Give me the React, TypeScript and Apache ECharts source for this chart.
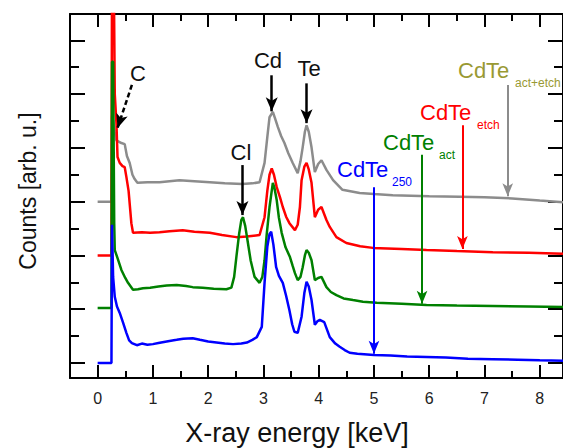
import React, { useEffect, useRef } from 'react';
import * as echarts from 'echarts';

// ---- axis ticks ----
const xTickValues = [0, 1, 2, 3, 4, 5, 6, 7, 8];
const xMinorValues = [0.5, 1.5, 2.5, 3.5, 4.5, 5.5, 6.5, 7.5];
const yTickValues = [0, 1, 2, 3, 4, 5, 6];
const yMinorValues = [0.5, 1.5, 2.5, 3.5, 4.5, 5.5];
const X_MIN = -0.5;
const X_MAX = 8.42;
const Y_MIN = -0.28;
const Y_MAX = 6.49;

// ---- spectra: [energy keV, counts (arb. u., offset)] ----
const cdte250: [number, number][] = [
  [0, 0], [0.25, 0], [0.26, 2.57], [0.28, 1.6], [0.31, 1.23], [0.35, 1.05], [0.4, 0.93], [0.46, 0.75],
  [0.52, 0.56], [0.57, 0.42], [0.62, 0.37], [0.71, 0.33], [0.8, 0.36], [0.9, 0.34], [1.0, 0.35],
  [1.1, 0.37], [1.2, 0.39], [1.3, 0.41], [1.43, 0.43], [1.55, 0.45], [1.72, 0.46], [1.85, 0.43],
  [2.0, 0.4], [2.15, 0.38], [2.3, 0.36], [2.45, 0.35], [2.6, 0.36], [2.7, 0.38], [2.8, 0.43],
  [2.88, 0.48], [2.97, 0.67], [3.02, 1.49], [3.07, 2.16], [3.11, 2.4], [3.14, 2.44], [3.18, 2.2],
  [3.23, 1.78], [3.28, 1.62], [3.35, 1.49], [3.41, 1.25], [3.47, 0.98], [3.52, 0.72], [3.56, 0.58],
  [3.62, 0.56], [3.69, 0.86], [3.74, 1.3], [3.78, 1.51], [3.82, 1.42], [3.87, 1.17], [3.93, 0.71],
  [3.98, 0.78], [4.02, 0.8], [4.1, 0.76], [4.15, 0.62], [4.2, 0.48], [4.3, 0.36], [4.38, 0.3],
  [4.47, 0.24], [4.56, 0.19], [4.7, 0.17], [5.0, 0.15], [5.3, 0.14], [5.6, 0.12], [5.95, 0.11],
  [6.3, 0.1], [6.7, 0.08], [7.15, 0.07], [7.6, 0.06], [8.0, 0.05], [8.42, 0.04],
];

const cdteAct: [number, number][] = [
  [0, 1.02], [0.25, 1.02], [0.26, 5.6], [0.28, 5.6], [0.3, 2.6], [0.31, 2.1], [0.36, 1.95], [0.43, 1.73],
  [0.5, 1.58], [0.55, 1.49], [0.64, 1.36], [0.73, 1.37], [0.82, 1.39], [0.95, 1.4], [1.1, 1.42],
  [1.25, 1.44], [1.43, 1.45], [1.6, 1.43], [1.72, 1.41], [1.9, 1.4], [2.1, 1.38], [2.33, 1.37],
  [2.42, 1.4], [2.47, 1.6], [2.51, 1.97], [2.56, 2.4], [2.6, 2.66], [2.63, 2.71], [2.67, 2.55],
  [2.71, 2.29], [2.77, 1.9], [2.84, 1.6], [2.93, 1.49], [2.98, 1.6], [3.02, 1.91], [3.06, 2.4],
  [3.11, 2.9], [3.17, 3.35], [3.2, 3.25], [3.24, 3.03], [3.28, 2.7], [3.33, 2.42], [3.4, 2.15],
  [3.48, 1.97], [3.53, 1.8], [3.57, 1.67], [3.62, 1.54], [3.67, 1.6], [3.71, 1.78], [3.75, 2.0],
  [3.78, 2.1], [3.82, 2.05], [3.87, 1.91], [3.93, 1.54], [3.99, 1.58], [4.05, 1.6], [4.14, 1.41],
  [4.22, 1.32], [4.32, 1.26], [4.45, 1.2], [4.62, 1.17], [4.8, 1.14], [5.05, 1.12], [5.5, 1.1],
  [5.95, 1.08], [6.5, 1.07], [7.15, 1.06], [7.8, 1.05], [8.42, 1.04],
];

const cdteEtch: [number, number][] = [
  [0, 2.0], [0.25, 2.0], [0.26, 7.5], [0.29, 7.5], [0.31, 5.0], [0.34, 4.46], [0.36, 3.83], [0.4, 3.72],
  [0.45, 3.66], [0.49, 3.64], [0.52, 3.46], [0.56, 3.2], [0.61, 2.6], [0.64, 2.42], [0.8, 2.43],
  [0.95, 2.42], [1.12, 2.43], [1.3, 2.45], [1.54, 2.47], [1.75, 2.44], [2.03, 2.42], [2.25, 2.38],
  [2.51, 2.34], [2.7, 2.35], [2.93, 2.38], [3.02, 2.71], [3.07, 3.2], [3.11, 3.5], [3.15, 3.62],
  [3.19, 3.5], [3.24, 3.27], [3.3, 3.08], [3.35, 2.9], [3.41, 2.72], [3.47, 2.6], [3.57, 2.47],
  [3.62, 2.57], [3.66, 2.9], [3.69, 3.4], [3.74, 3.65], [3.78, 3.72], [3.82, 3.6], [3.87, 3.35],
  [3.93, 2.71], [3.99, 2.85], [4.05, 2.9], [4.14, 2.66], [4.2, 2.53], [4.32, 2.34], [4.5, 2.23],
  [4.75, 2.17], [4.98, 2.14], [5.5, 2.12], [5.95, 2.1], [6.5, 2.08], [7.15, 2.06], [7.8, 2.05],
  [8.42, 2.03],
];

const cdteActEtch: [number, number][] = [
  [0, 3.0], [0.25, 3.0], [0.26, 4.6], [0.28, 4.5], [0.31, 4.3], [0.34, 4.14], [0.43, 4.09], [0.49, 4.07],
  [0.53, 3.85], [0.58, 3.72], [0.63, 3.5], [0.67, 3.42], [0.72, 3.35], [0.9, 3.36], [1.12, 3.36],
  [1.3, 3.38], [1.48, 3.4], [1.75, 3.38], [2.03, 3.36], [2.3, 3.34], [2.62, 3.33], [2.8, 3.34],
  [2.93, 3.36], [3.02, 3.72], [3.07, 4.2], [3.11, 4.57], [3.17, 4.67], [3.21, 4.55], [3.26, 4.39],
  [3.32, 4.22], [3.38, 4.09], [3.45, 3.9], [3.53, 3.72], [3.62, 3.53], [3.67, 3.75], [3.71, 4.01],
  [3.75, 4.3], [3.78, 4.42], [3.82, 4.3], [3.87, 4.01], [3.93, 3.55], [3.99, 3.7], [4.05, 3.77],
  [4.14, 3.59], [4.26, 3.4], [4.43, 3.22], [4.74, 3.16], [5.0, 3.14], [5.34, 3.12], [6.0, 3.1],
  [6.55, 3.09], [7.0, 3.08], [7.5, 3.06], [8.0, 3.02], [8.42, 2.99],
];

// ---- arrows (data coordinates: [x, yFrom, yTo]) ----
const arrow250 = [5.0, 3.27, 0.17];
const arrowAct = [5.87, 3.87, 1.1];
const arrowEtch = [6.6, 4.42, 2.12];
const arrowActEtch = [7.42, 5.17, 3.1];
const peakArrows = [
  { from: [3.15, 5.35], to: [3.15, 4.68], dashed: false }, // Cd
  { from: [3.78, 5.2], to: [3.78, 4.46], dashed: false },  // Te
  { from: [2.62, 3.68], to: [2.62, 2.75], dashed: false }, // Cl
  { from: [0.62, 5.17], to: [0.36, 4.37], dashed: true },  // C
];

const FONT = "'Liberation Sans', Arial, Helvetica, sans-serif";
const BLUE = '#0000ff';
const GREEN = '#008000';
const RED = '#ff0000';
const GRAY = '#8c8c8c';
const OLIVE = '#999933';

function vArrow(a: number[], color: string) {
  return {
    silent: true,
    symbol: ['none', 'arrow'],
    symbolSize: [8, 13],
    label: { show: false },
    lineStyle: { color, width: 2, type: 'solid' },
    data: [[{ coord: [a[0], a[1]] }, { coord: [a[0], a[2]] }]],
  };
}

function makeAxis(kind: 'x' | 'y', position: string, values: number[], len: number, showLine: boolean, labels: boolean) {
  return {
    type: 'value',
    position,
    min: kind === 'x' ? X_MIN : Y_MIN,
    max: kind === 'x' ? X_MAX : Y_MAX,
    axisLine: { show: showLine, onZero: false, lineStyle: { color: '#000', width: 2 } },
    splitLine: { show: false },
    axisTick: { show: true, inside: true, length: len, customValues: values, lineStyle: { color: '#000', width: 2 } },
    axisLabel: labels
      ? { show: true, customValues: values, fontSize: 16, color: '#222', fontFamily: FONT, margin: 12 }
      : { show: false },
  };
}

function lineSeries(name: string, data: [number, number][], color: string, markLine?: any) {
  return {
    type: 'line',
    name,
    data,
    xAxisIndex: 0,
    yAxisIndex: 0,
    showSymbol: false,
    symbol: 'none',
    clip: true,
    lineStyle: { color, width: 2.5 },
    markLine,
  };
}

function txt(x: number, y: number, text: string, size: number, color: string, align = 'left') {
  return {
    type: 'text',
    x,
    y,
    silent: true,
    style: { text, fontSize: size, fontFamily: FONT, fill: color, align, verticalAlign: 'middle' },
  };
}

export default function App() {
  const ref = useRef<HTMLDivElement>(null);
  useEffect(() => {
    if (!ref.current) return;
    const chart = echarts.init(ref.current, null, { renderer: 'svg' });
    const option: any = {
      animation: false,
      backgroundColor: '#ffffff',
      grid: { left: 70, top: 14, width: 493, height: 364, outerBoundsMode: 'none', containLabel: false },
      xAxis: [
        makeAxis('x', 'bottom', xTickValues, 13, true, true),
        makeAxis('x', 'bottom', xMinorValues, 7, false, false),
        makeAxis('x', 'top', xTickValues, 13, true, false),
        makeAxis('x', 'top', xMinorValues, 7, false, false),
      ],
      yAxis: [
        makeAxis('y', 'left', yTickValues, 15, true, false),
        makeAxis('y', 'left', yMinorValues, 9, false, false),
        makeAxis('y', 'right', yTickValues, 15, true, false),
        makeAxis('y', 'right', yMinorValues, 9, false, false),
      ],
      series: [
        lineSeries('CdTe act+etch', cdteActEtch, GRAY, vArrow(arrowActEtch, GRAY)),
        lineSeries('CdTe etch', cdteEtch, RED, vArrow(arrowEtch, RED)),
        lineSeries('CdTe act', cdteAct, GREEN, vArrow(arrowAct, GREEN)),
        lineSeries('CdTe 250', cdte250, BLUE, vArrow(arrow250, BLUE)),
        {
          type: 'line',
          name: 'peaks',
          data: [],
          xAxisIndex: 0,
          yAxisIndex: 0,
          markLine: {
            silent: true,
            symbol: ['none', 'arrow'],
            symbolSize: [9, 14],
            label: { show: false },
            data: peakArrows.map((p) => [
              { coord: p.from, lineStyle: { color: '#000', width: 2.5, type: p.dashed ? [5, 3] : 'solid' } },
              { coord: p.to },
            ]),
          },
        },
      ],
      graphic: [
        txt(297, 433, 'X-ray energy [keV]', 27, '#111', 'center'),
        {
          type: 'text',
          x: 28,
          y: 191,
          rotation: Math.PI / 2,
          silent: true,
          style: { text: 'Counts [arb. u.]', fontSize: 23, fontFamily: FONT, fill: '#111', align: 'center', verticalAlign: 'middle' },
        },
        txt(138, 73, 'C', 22, '#111', 'center'),
        txt(268, 60, 'Cd', 22, '#111', 'center'),
        txt(309, 68, 'Te', 22, '#111', 'center'),
        txt(241, 152, 'Cl', 22, '#111', 'center'),
        txt(337, 169, 'CdTe', 22, BLUE),
        txt(392, 182, '250', 12, BLUE),
        txt(383, 142, 'CdTe', 22, GREEN),
        txt(439, 155, 'act', 12, GREEN),
        txt(420, 112, 'CdTe', 22, RED),
        txt(477, 125, 'etch', 12, RED),
        txt(458, 70, 'CdTe', 22, OLIVE),
        txt(515, 83, 'act+etch', 12, OLIVE),
      ],
    };
    chart.setOption(option);
    return () => chart.dispose();
  }, []);
  return (
    <div
      ref={ref}
      style={{ position: 'fixed', left: 0, top: 0, width: 563, height: 448, background: '#fff' }}
    />
  );
}
